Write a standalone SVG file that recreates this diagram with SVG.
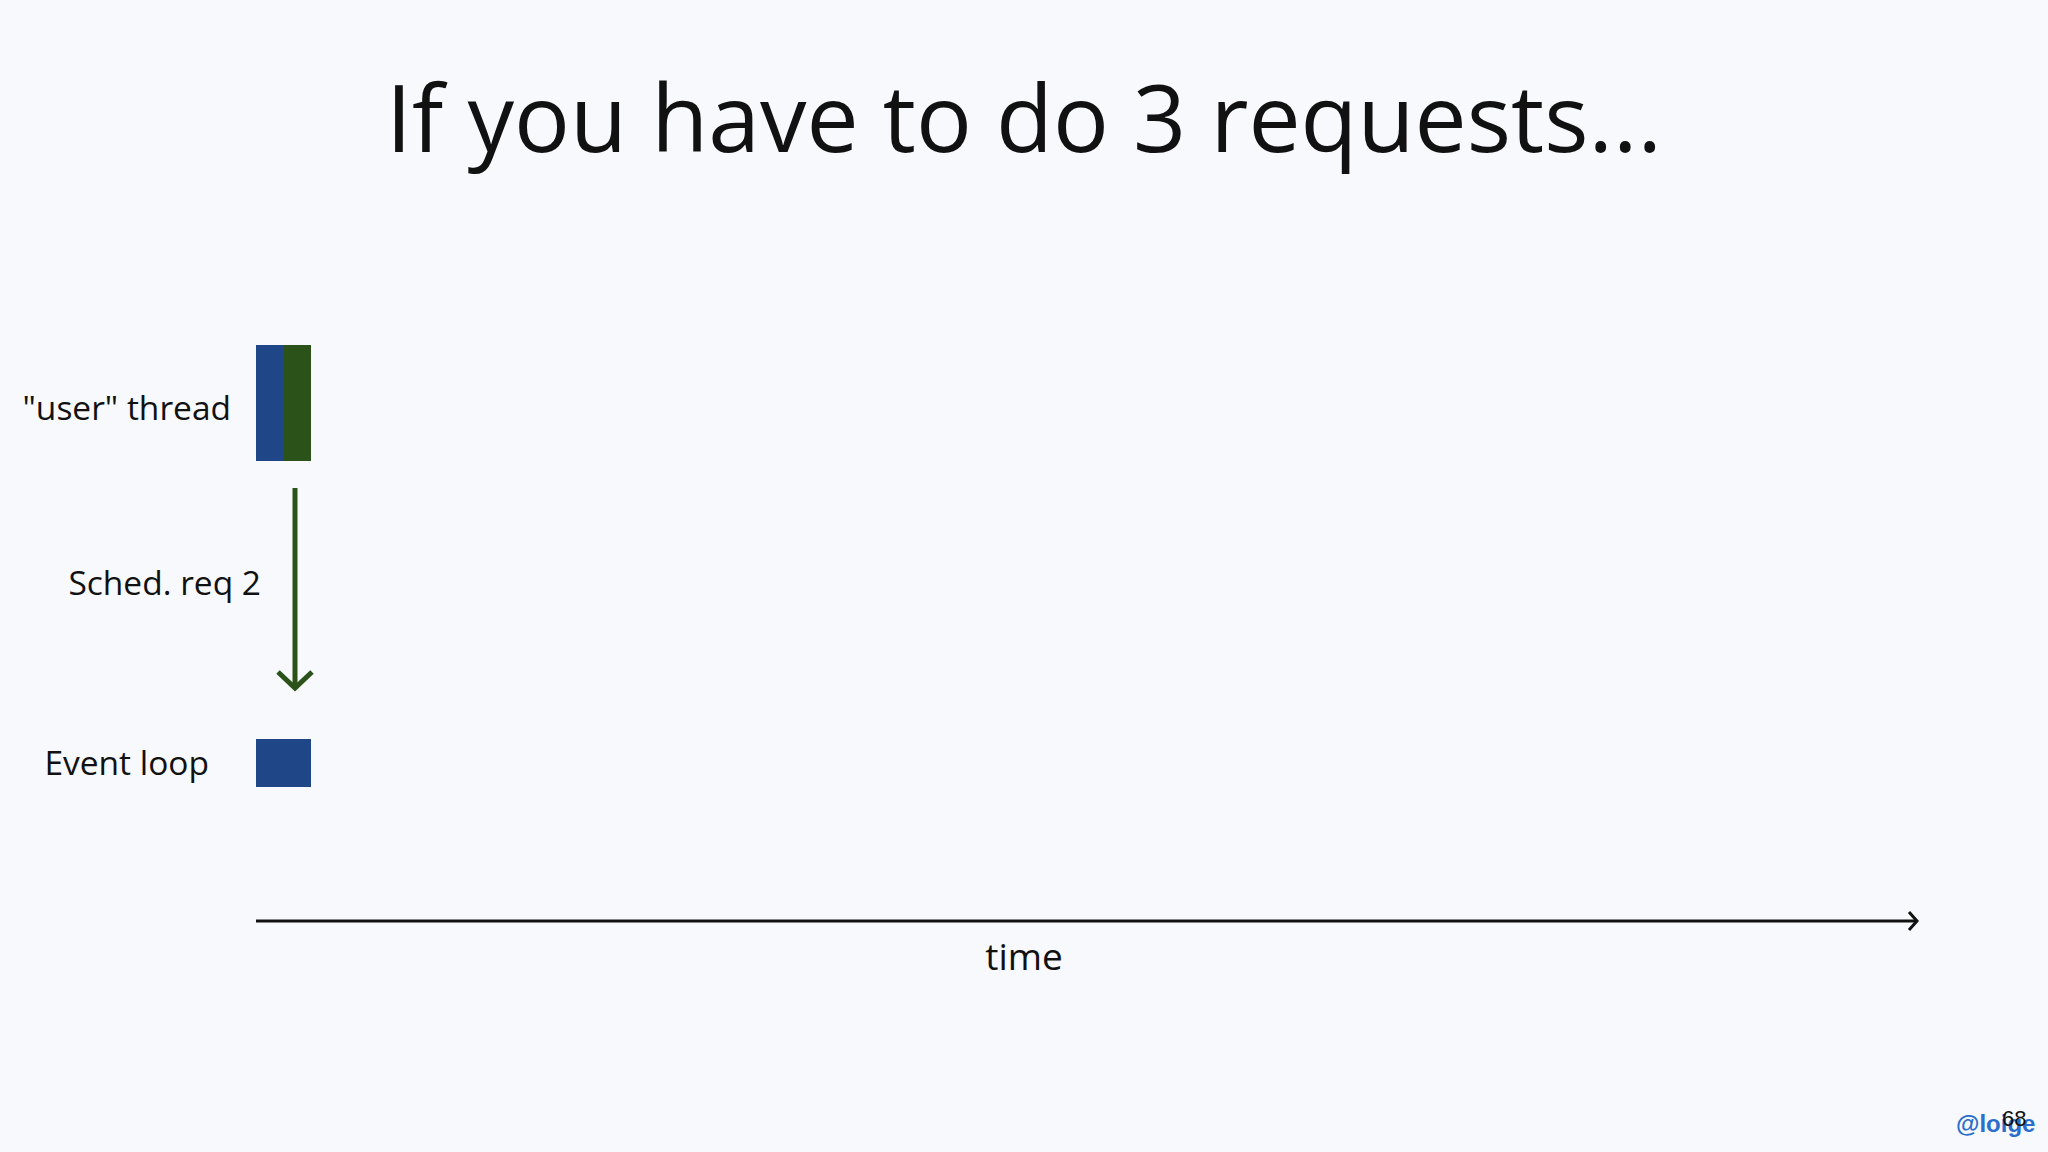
<svg xmlns="http://www.w3.org/2000/svg" width="2048" height="1152" viewBox="0 0 2048 1152">
<style>
.t{font-family:"Open Sans","Noto Sans","Liberation Sans",sans-serif;fill:#111111}
.lbl{font-size:33.5px;text-anchor:end}
.blue{fill:#1f4788}
.green{fill:#2a5219}
</style>
<defs>
<marker id="chevG" markerWidth="10" markerHeight="10" refX="8" refY="5" orient="auto" markerUnits="userSpaceOnUse" viewBox="0 0 10 10" overflow="visible">
<path d="M-8,-12 L8,5 L-8,22" fill="none" stroke="#2a5219" stroke-width="5"/>
</marker>
<marker id="chevK" markerWidth="10" markerHeight="10" refX="8" refY="5" orient="auto" markerUnits="userSpaceOnUse" viewBox="0 0 10 10" overflow="visible">
<path d="M0,-4 L8,5 L0,14" fill="none" stroke="#111111" stroke-width="3"/>
</marker>
</defs>
<rect width="2048" height="1152" fill="#f8f9fc"/>
<text class="t" x="1024" y="152" font-size="93" text-anchor="middle">If you have to do 3 requests...</text>
<g id="user-thread">
<text class="t lbl" x="231" y="420">"user" thread</text>
<rect class="blue" x="256" y="345" width="28" height="116"/>
<rect class="green" x="284" y="345" width="27" height="116"/>
</g>
<g id="event-loop">
<text class="t lbl" x="209" y="775">Event loop</text>
<rect class="blue" x="256" y="739" width="55" height="48"/>
</g>
<g id="connectors">
<line x1="295" y1="488" x2="295" y2="688" stroke="#2a5219" stroke-width="5" marker-end="url(#chevG)"/>
<text class="t lbl" x="261" y="595">Sched. req 2</text>
<line x1="256" y1="921" x2="1917" y2="921" stroke="#111111" stroke-width="3" marker-end="url(#chevK)"/>
</g>
<text class="t" x="1024" y="970" font-size="37" text-anchor="middle">time</text>
<g id="footer">
<text x="1956" y="1132" font-family="Liberation Sans, Arial, sans-serif" font-weight="bold" font-size="24" fill="#2a6fcb">@loige</text>
<text x="2002" y="1126" font-family="Liberation Sans, Arial, sans-serif" font-size="22" fill="#111111">68</text>
</g>
</svg>
